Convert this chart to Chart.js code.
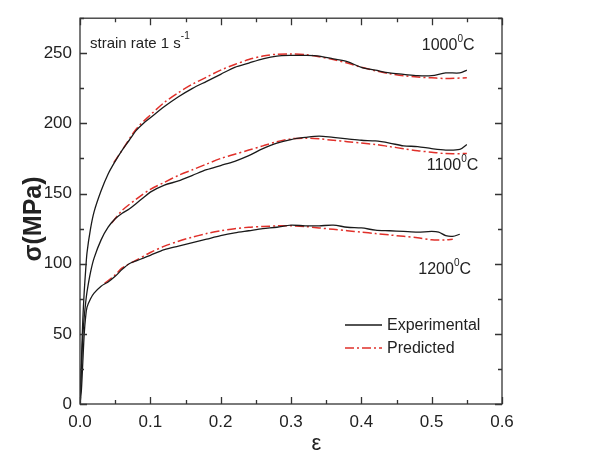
<!DOCTYPE html>
<html>
<head>
<meta charset="utf-8">
<script src="https://cdn.jsdelivr.net/npm/chart.js@4.4.1/dist/chart.umd.min.js"></script>
<style>
  html, body { margin: 0; padding: 0; background: #fff; }
  #wrap { width: 607px; height: 460px; }
</style>
</head>
<body>
<div id="wrap"><canvas id="chart" width="607" height="460"></canvas></div>
<script>
// strain / stress points
const exp1000 = [[0,0],[0.002,30],[0.004,60],[0.006,80],[0.008,95],[0.01,108],[0.015,125],[0.02,137],[0.03,152],[0.04,164],[0.05,173],[0.06,181],[0.07,188],[0.08,195],[0.09,200],[0.1,204],[0.12,212],[0.14,219],[0.16,225],[0.18,230],[0.2,235],[0.22,240],[0.24,243],[0.26,246],[0.28,248],[0.3,248.5],[0.32,248.5],[0.34,248],[0.36,246],[0.38,244],[0.4,240],[0.42,238],[0.44,236],[0.46,235],[0.48,234],[0.5,234],[0.52,236],[0.54,236],[0.55,238]];
const pred1000 = [[0.048,172],[0.06,181],[0.08,196],[0.1,206],[0.12,215],[0.14,222],[0.16,228],[0.18,233],[0.2,238],[0.22,242],[0.24,245.5],[0.26,248],[0.28,249.3],[0.3,249.5],[0.32,249],[0.34,247.5],[0.36,245.5],[0.38,243],[0.4,240],[0.42,237.5],[0.44,235.5],[0.46,234],[0.48,233],[0.5,232.5],[0.52,232],[0.55,232.5]];

const exp1100 = [[0,0],[0.002,25],[0.004,48],[0.006,62],[0.008,72],[0.01,80],[0.015,94],[0.02,104],[0.03,117],[0.04,126],[0.05,132],[0.06,136],[0.07,139],[0.08,143],[0.09,147],[0.1,151],[0.12,156],[0.14,159],[0.16,163],[0.18,167],[0.2,170],[0.22,173],[0.24,177],[0.26,182],[0.28,186],[0.3,188.5],[0.32,190],[0.34,191],[0.36,190],[0.38,189],[0.4,188],[0.42,187.5],[0.44,186],[0.46,184],[0.48,183.5],[0.5,182],[0.52,181],[0.54,181.5],[0.55,185]];
const pred1100 = [[0.045,129],[0.06,138],[0.08,146],[0.1,153],[0.12,158],[0.14,163],[0.16,167],[0.18,171],[0.2,175],[0.22,178],[0.24,181],[0.26,184],[0.28,187],[0.3,189],[0.32,189.5],[0.34,189],[0.36,188],[0.38,187],[0.4,186],[0.42,185],[0.44,183.5],[0.46,182],[0.48,180.5],[0.5,179.5],[0.52,178.5],[0.55,178.5]];

const exp1200 = [[0,0],[0.002,10],[0.004,30],[0.006,50],[0.008,62],[0.01,69],[0.015,75],[0.02,79],[0.03,84],[0.04,87],[0.05,91],[0.06,96],[0.07,100],[0.08,102],[0.09,104],[0.1,106],[0.12,110],[0.14,112.5],[0.16,115],[0.18,117.5],[0.2,120],[0.22,122],[0.24,123.5],[0.26,125],[0.28,126],[0.3,127.5],[0.32,127],[0.34,127],[0.36,127.5],[0.38,126],[0.4,125.5],[0.42,124],[0.44,123.5],[0.46,123],[0.48,122.5],[0.5,123],[0.51,122.5],[0.52,120],[0.53,119.5],[0.54,121]];
const pred1200 = [[0.035,86],[0.05,92],[0.06,97],[0.08,102.5],[0.1,108],[0.12,112.5],[0.14,116],[0.16,119],[0.18,121.5],[0.2,123.5],[0.22,125],[0.24,126],[0.26,126.5],[0.28,127],[0.3,127],[0.32,126.5],[0.34,125.5],[0.36,124.5],[0.38,123.5],[0.4,122.5],[0.42,121.5],[0.44,120.5],[0.46,119.5],[0.48,118.5],[0.5,117],[0.52,117],[0.53,117.5]];

const xMajor = [0, 0.1, 0.2, 0.3, 0.4, 0.5, 0.6];
const yMajor = [0, 50, 100, 150, 200, 250];

// temperature labels: [text, strain, stress] anchor (left, baseline)
const tempLabels = [["1000", 0.486, 252], ["1100", 0.493, 167], ["1200", 0.481, 93]];

const BLACK = '#1a1a1a';
const RED = '#e0302a';
const FONT = 'Liberation Sans, Arial, sans-serif';

function toXY(arr) { return arr.map(p => ({ x: p[0], y: p[1] })); }

function expSet(arr) {
  return { label: 'Experimental', data: toXY(arr), showLine: true, borderColor: BLACK, borderWidth: 1.3, pointRadius: 0, tension: 0.3 };
}
function predSet(arr) {
  return { label: 'Predicted', data: toXY(arr), showLine: true, borderColor: RED, borderWidth: 1.5, borderDash: [9, 3, 2, 3], pointRadius: 0, tension: 0.3 };
}

// frame + inward ticks on all four sides, axis titles and the text inside the plot
const decor = {
  id: 'decor',
  afterDraw(chart) {
    const ctx = chart.ctx;
    const a = chart.chartArea;
    const xs = chart.scales.x, ys = chart.scales.y;
    ctx.save();
    ctx.strokeStyle = '#333';
    ctx.lineWidth = 1.3;
    ctx.strokeRect(a.left, a.top, a.right - a.left, a.bottom - a.top);
    ctx.beginPath();
    for (let v = 0; v <= 0.6001; v += 0.05) {
      const px = Math.round(xs.getPixelForValue(v)) + 0.5;
      const len = Math.abs(v * 10 - Math.round(v * 10)) < 1e-6 ? 7 : 4;
      ctx.moveTo(px, a.bottom); ctx.lineTo(px, a.bottom - len);
      ctx.moveTo(px, a.top); ctx.lineTo(px, a.top + len);
    }
    for (let v = 0; v <= 275; v += 25) {
      const py = Math.round(ys.getPixelForValue(v)) + 0.5;
      const len = v % 50 === 0 ? 7 : 4;
      ctx.moveTo(a.left, py); ctx.lineTo(a.left + len, py);
      ctx.moveTo(a.right, py); ctx.lineTo(a.right - len, py);
    }
    ctx.stroke();

    ctx.fillStyle = '#222';

    // axis titles
    ctx.textAlign = 'center';
    ctx.textBaseline = 'alphabetic';
    ctx.font = '22px ' + FONT;
    ctx.fillText('ε', xs.getPixelForValue(0.336), 450);
    ctx.save();
    ctx.translate(41, 219);
    ctx.rotate(-Math.PI / 2);
    ctx.font = 'bold 25px ' + FONT;
    ctx.fillText('σ(MPa)', 0, 0);
    ctx.restore();

    ctx.textAlign = 'left';
    // strain rate note
    ctx.font = '15px ' + FONT;
    const s = 'strain rate 1 s';
    ctx.fillText(s, a.left + 10, a.top + 30);
    const sw = ctx.measureText(s).width;
    ctx.font = '10px ' + FONT;
    ctx.fillText('-1', a.left + 10 + sw, a.top + 21);

    // temperature labels with superscript 0
    tempLabels.forEach(t => {
      const x = xs.getPixelForValue(t[1]);
      const y = ys.getPixelForValue(t[2]);
      ctx.font = '16px ' + FONT;
      ctx.fillText(t[0], x, y);
      let w = ctx.measureText(t[0]).width;
      ctx.font = '10px ' + FONT;
      ctx.fillText('0', x + w, y - 8);
      w += ctx.measureText('0').width;
      ctx.font = '16px ' + FONT;
      ctx.fillText('C', x + w, y);
    });

    // legend
    const lx = 345, ly1 = 325, ly2 = 348;
    ctx.lineWidth = 1.3;
    ctx.strokeStyle = BLACK;
    ctx.beginPath(); ctx.moveTo(lx, ly1); ctx.lineTo(lx + 37, ly1); ctx.stroke();
    ctx.strokeStyle = RED;
    ctx.lineWidth = 1.5;
    ctx.setLineDash([9, 3, 2, 3]);
    ctx.beginPath(); ctx.moveTo(lx, ly2); ctx.lineTo(lx + 37, ly2); ctx.stroke();
    ctx.setLineDash([]);
    ctx.font = '16px ' + FONT;
    ctx.textBaseline = 'middle';
    ctx.fillText('Experimental', lx + 42, ly1 + 1);
    ctx.fillText('Predicted', lx + 42, ly2 + 1);
    ctx.restore();
  }
};

new Chart(document.getElementById('chart'), {
  type: 'scatter',
  data: {
    datasets: [
      expSet(exp1000), predSet(pred1000),
      expSet(exp1100), predSet(pred1100),
      expSet(exp1200), predSet(pred1200)
    ]
  },
  options: {
    responsive: false,
    animation: false,
    layout: { padding: { top: 8, right: 105, left: 0, bottom: 0 } },
    plugins: { legend: { display: false }, tooltip: { enabled: false } },
    scales: {
      x: {
        type: 'linear', min: 0, max: 0.6,
        afterFit: s => { s.height = 56; },
        afterBuildTicks: s => { s.ticks = xMajor.map(v => ({ value: v })); },
        grid: { display: false, drawTicks: false },
        border: { display: false },
        ticks: { color: '#222', font: { family: FONT, size: 17 }, padding: 8, maxRotation: 0,
          callback: v => v.toFixed(1) }
      },
      y: {
        type: 'linear', min: 0, max: 275,
        afterFit: s => { s.width = 80; },
        afterBuildTicks: s => { s.ticks = yMajor.map(v => ({ value: v })); },
        grid: { display: false, drawTicks: false },
        border: { display: false },
        ticks: { color: '#222', font: { family: FONT, size: 17 }, padding: 8 }
      }
    }
  },
  plugins: [decor]
});
</script>
</body>
</html>
